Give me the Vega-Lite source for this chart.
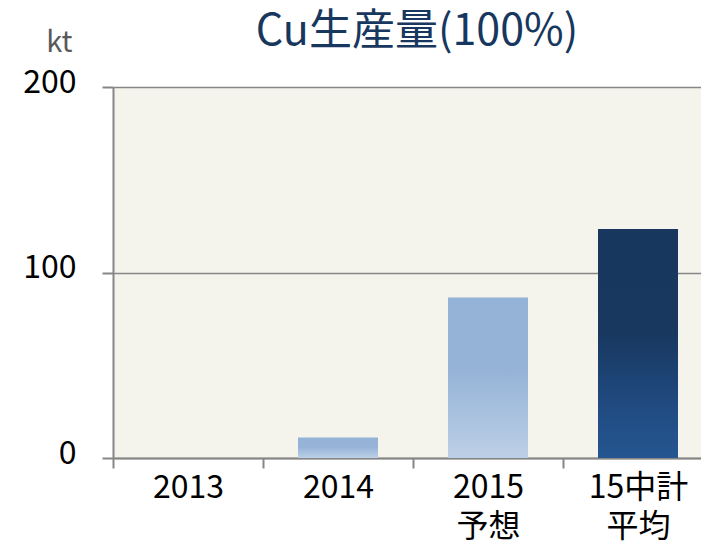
{
  "$schema": "https://vega.github.io/schema/vega-lite/v6.json",
  "autosize": {"type": "none"},
  "padding": {"left": 113, "top": 87, "right": 0, "bottom": 83},
  "width": 588,
  "height": 371,
  "background": "#ffffff",
  "config": {
    "view": {"fill": "#f4f3ec", "stroke": null},
    "font": "Noto Sans CJK JP"
  },
  "title": {
    "text": "Cu生産量(100%)",
    "font": "Noto Sans CJK JP",
    "fontSize": 43,
    "fontWeight": "normal",
    "color": "#17375e",
    "anchor": "middle",
    "frame": "group",
    "dx": 10,
    "baseline": "alphabetic",
    "offset": -60
  },
  "data": {
    "values": [
      {"period": "2013", "label": "2013", "value": 0, "kind": "actual"},
      {"period": "2014", "label": "2014", "value": 11, "kind": "actual"},
      {"period": "2015", "label": "2015\n予想", "value": 86.5, "kind": "actual"},
      {"period": "15中計", "label": "15中計\n平均", "value": 123.5, "kind": "plan"}
    ]
  },
  "encoding": {
    "x": {
      "field": "label",
      "type": "nominal",
      "sort": null,
      "scale": {"range": [0, 600], "paddingInner": 0, "paddingOuter": 0},
      "axis": {
        "title": null,
        "labelAngle": 0,
        "labelFont": "Noto Sans CJK JP",
        "labelFontSize": 32,
        "labelColor": "#000000",
        "labelExpr": "split(datum.label, '\\n')",
        "labelLineHeight": 39,
        "labelPadding": 4,
        "labelBaseline": "top",
        "domainColor": "#868686",
        "domainWidth": 2,
        "tickColor": "#868686",
        "tickWidth": 2,
        "tickSize": 10,
        "tickBand": "extent",
        "labelBound": false,
        "labelOverlap": false
      }
    },
    "y": {
      "field": "value",
      "type": "quantitative",
      "scale": {"domain": [0, 200], "nice": false},
      "axis": {
        "values": [0, 100, 200],
        "title": "kt",
        "titleAngle": 0,
        "titleAlign": "right",
        "titleBaseline": "alphabetic",
        "titleX": -41,
        "titleY": -36,
        "titleFont": "Noto Sans CJK JP",
        "titleFontSize": 29,
        "titleFontWeight": "normal",
        "titleColor": "#595959",
        "labelFont": "Noto Sans CJK JP",
        "labelFontSize": 32,
        "labelColor": "#000000",
        "labelPadding": 26,
        "labelOffset": -5,
        "grid": true,
        "gridColor": "#868686",
        "gridWidth": 1.5,
        "domainColor": "#868686",
        "domainWidth": 2,
        "tickColor": "#868686",
        "tickWidth": 2,
        "tickSize": 11
      }
    }
  },
  "layer": [
    {
      "transform": [{"filter": "datum.kind === 'actual'"}],
      "mark": {
        "type": "bar",
        "width": {"band": 0.5333},
        "color": {
          "gradient": "linear",
          "x1": 0, "y1": 0, "x2": 0, "y2": 1,
          "stops": [
            {"offset": 0, "color": "#95b3d7"},
            {"offset": 0.45, "color": "#95b3d7"},
            {"offset": 1, "color": "#bccfe6"}
          ]
        }
      }
    },
    {
      "transform": [{"filter": "datum.kind === 'plan'"}],
      "mark": {
        "type": "bar",
        "width": {"band": 0.5333},
        "color": {
          "gradient": "linear",
          "x1": 0, "y1": 0, "x2": 0, "y2": 1,
          "stops": [
            {"offset": 0, "color": "#17375e"},
            {"offset": 0.45, "color": "#18385f"},
            {"offset": 0.8, "color": "#214c84"},
            {"offset": 1, "color": "#25568f"}
          ]
        }
      }
    }
  ]
}
